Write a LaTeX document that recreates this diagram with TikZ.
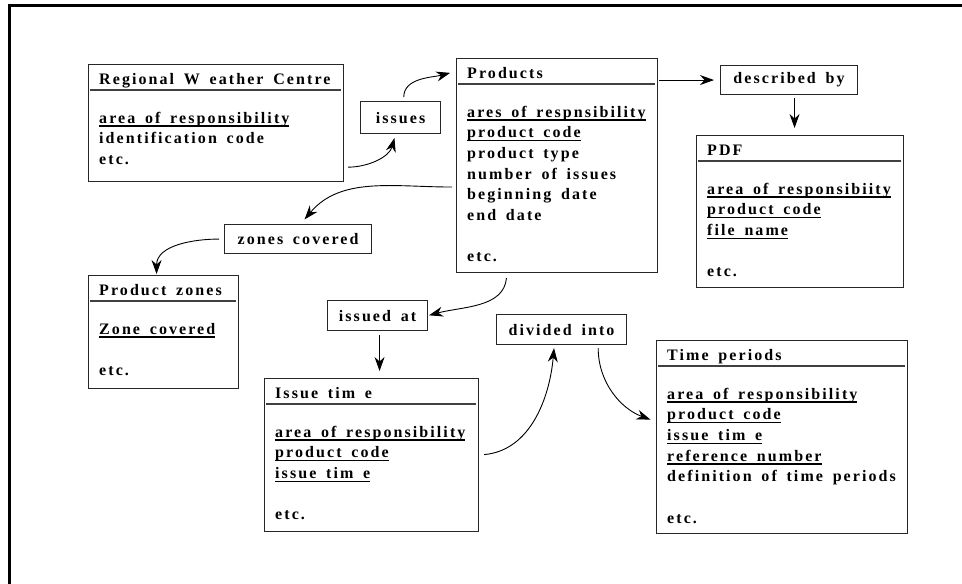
\documentclass[tikz,border=0pt]{standalone}
\usepackage{fontspec}
\setmainfont{Liberation Serif}[LetterSpace=13,WordSpace=1.6]
\usetikzlibrary{arrows.meta}

\newcommand\keyfield[1]{\leavevmode\setbox0=\hbox{#1}\rlap{\rule[-3.5pt]{\wd0}{1.2pt}}\box0}

\begin{document}
\begin{tikzpicture}[x=1pt,y=1pt,font=\fontsize{16}{20.7}\selectfont\bfseries,
	entity/.style={draw=black!85,line width=1.1pt,anchor=north west,inner sep=0pt},
	relbox/.style={draw=black!85,line width=1.1pt,anchor=north west,inner sep=0pt},
	heading/.style={anchor=base west,inner sep=0pt},
	fields/.style={anchor=base west,inner sep=0pt,text width=300pt,align=flush left},
	hrule/.style={draw=black!75,line width=1.1pt},
	arr/.style={-{Stealth[length=14pt,width=10pt]},line width=0.9pt}]
	\useasboundingbox (0,0) rectangle (962,-584);

	%frame
	\draw[line width=3pt] (9,-584) -- (9,-5) -- (962,-5);

	%entities
	\node[entity,minimum width=255pt,minimum height=117pt] (rwc) at (88,-64) {};
	\node[entity,minimum width=201pt,minimum height=214pt] (products) at (456,-58) {};
	\node[entity,minimum width=207pt,minimum height=152pt] (pdf) at (696,-135) {};
	\node[entity,minimum width=150pt,minimum height=113pt] (zones) at (88,-275) {};
	\node[entity,minimum width=214pt,minimum height=153pt] (issuetime) at (264,-378) {};
	\node[entity,minimum width=251pt,minimum height=193pt] (periods) at (656,-340) {};

	\foreach \b in {rwc,products,pdf,zones,issuetime,periods}
	\draw[hrule] ([shift={(2,-26)}]\b.north west) -- ([shift={(-3,-26)}]\b.north east);

	%headings
	\node[heading] (rwc-h) at ([shift={(11,-20)}]rwc.north west) {Regional W eather Centre};
	\node[heading] (products-h) at ([shift={(11,-20)}]products.north west) {Products};
	\node[heading] (pdf-h) at ([shift={(11,-20)}]pdf.north west) {PDF};
	\node[heading] (zones-h) at ([shift={(11,-20)}]zones.north west) {Product zones};
	\node[heading] (issuetime-h) at ([shift={(11,-20)}]issuetime.north west) {Issue tim e};
	\node[heading] (periods-h) at ([shift={(11,-20)}]periods.north west) {Time periods};

	%fields
	\node[fields] (rwc-f) at ([shift={(11,-59)}]rwc.north west)
		{\keyfield{area of responsibility}\\ identification code\\ etc.};
	\node[fields] (products-f) at ([shift={(11,-59)}]products.north west)
		{\keyfield{ares of respnsibility}\\ \keyfield{product code}\\ product type\\
		 number of issues\\ beginning date\\ end date\\[20.7pt] etc.};
	\node[fields] (pdf-f) at ([shift={(11,-59)}]pdf.north west)
		{\keyfield{area of responsibiity}\\ \keyfield{product code}\\ \keyfield{file name}\\[20.7pt] etc.};
	\node[fields] (zones-f) at ([shift={(11,-59)}]zones.north west)
		{\keyfield{Zone covered}\\[20.7pt] etc.};
	\node[fields] (issuetime-f) at ([shift={(11,-59)}]issuetime.north west)
		{\keyfield{area of responsibility}\\ \keyfield{product code}\\ \keyfield{issue tim e}\\[20.7pt] etc.};
	\node[fields] (periods-f) at ([shift={(11,-59)}]periods.north west)
		{\keyfield{area of responsibility}\\ \keyfield{product code}\\ \keyfield{issue tim e}\\
		 \keyfield{reference number}\\ definition of time periods\\[20.7pt] etc.};

	%relations
	\node[relbox,minimum width=80pt,minimum height=32pt] (issues) at (360,-101) {issues};
	\node[relbox,minimum width=137pt,minimum height=29pt] (describedby) at (720,-65) {described by};
	\node[relbox,minimum width=147pt,minimum height=29pt] (covered) at (224,-224) {zones covered};
	\node[relbox,minimum width=100pt,minimum height=30pt] (issuedat) at (327,-300) {issued at};
	\node[relbox,minimum width=130pt,minimum height=30pt] (divided) at (496,-314) {divided into};

	%arrows
	\draw[arr,shorten <=4pt,shorten >=4pt] (rwc.-19) to[out=0,in=-105] (issues.-107);
	\draw[arr,shorten <=4pt,shorten >=6pt] (issues.79) to[out=90,in=195] (products.137);
	\draw[arr,shorten <=1pt,shorten >=6pt] (describedby.west -| products.east) -- (describedby.west);
	\draw[arr,shorten <=3pt,shorten >=7pt] ([xshift=5.5pt]describedby.south) -- ([xshift=5.5pt]describedby.south |- pdf.north);
	\draw[arr,shorten <=4pt,shorten >=6pt] (products.192) to[out=180,in=50] (covered.80);
	\draw[arr,shorten <=5pt,shorten >=1pt] (covered.west) to[out=180,in=90] (zones.97);
	\draw[arr,shorten <=5pt,shorten >=1pt] (products.-115) to[out=-95,in=15] (issuedat.east);
	\draw[arr,shorten <=4pt,shorten >=7pt] ([xshift=2pt]issuedat.south) -- ([xshift=2pt]issuedat.south |- issuetime.north);
	\draw[arr,shorten <=5pt,shorten >=3pt] (issuetime.east) to[out=5,in=-95] (divided.-115);
	\draw[arr,shorten <=3pt,shorten >=6pt] (divided.-23) to[out=-90,in=160] (periods.173);
\end{tikzpicture}
\end{document}
